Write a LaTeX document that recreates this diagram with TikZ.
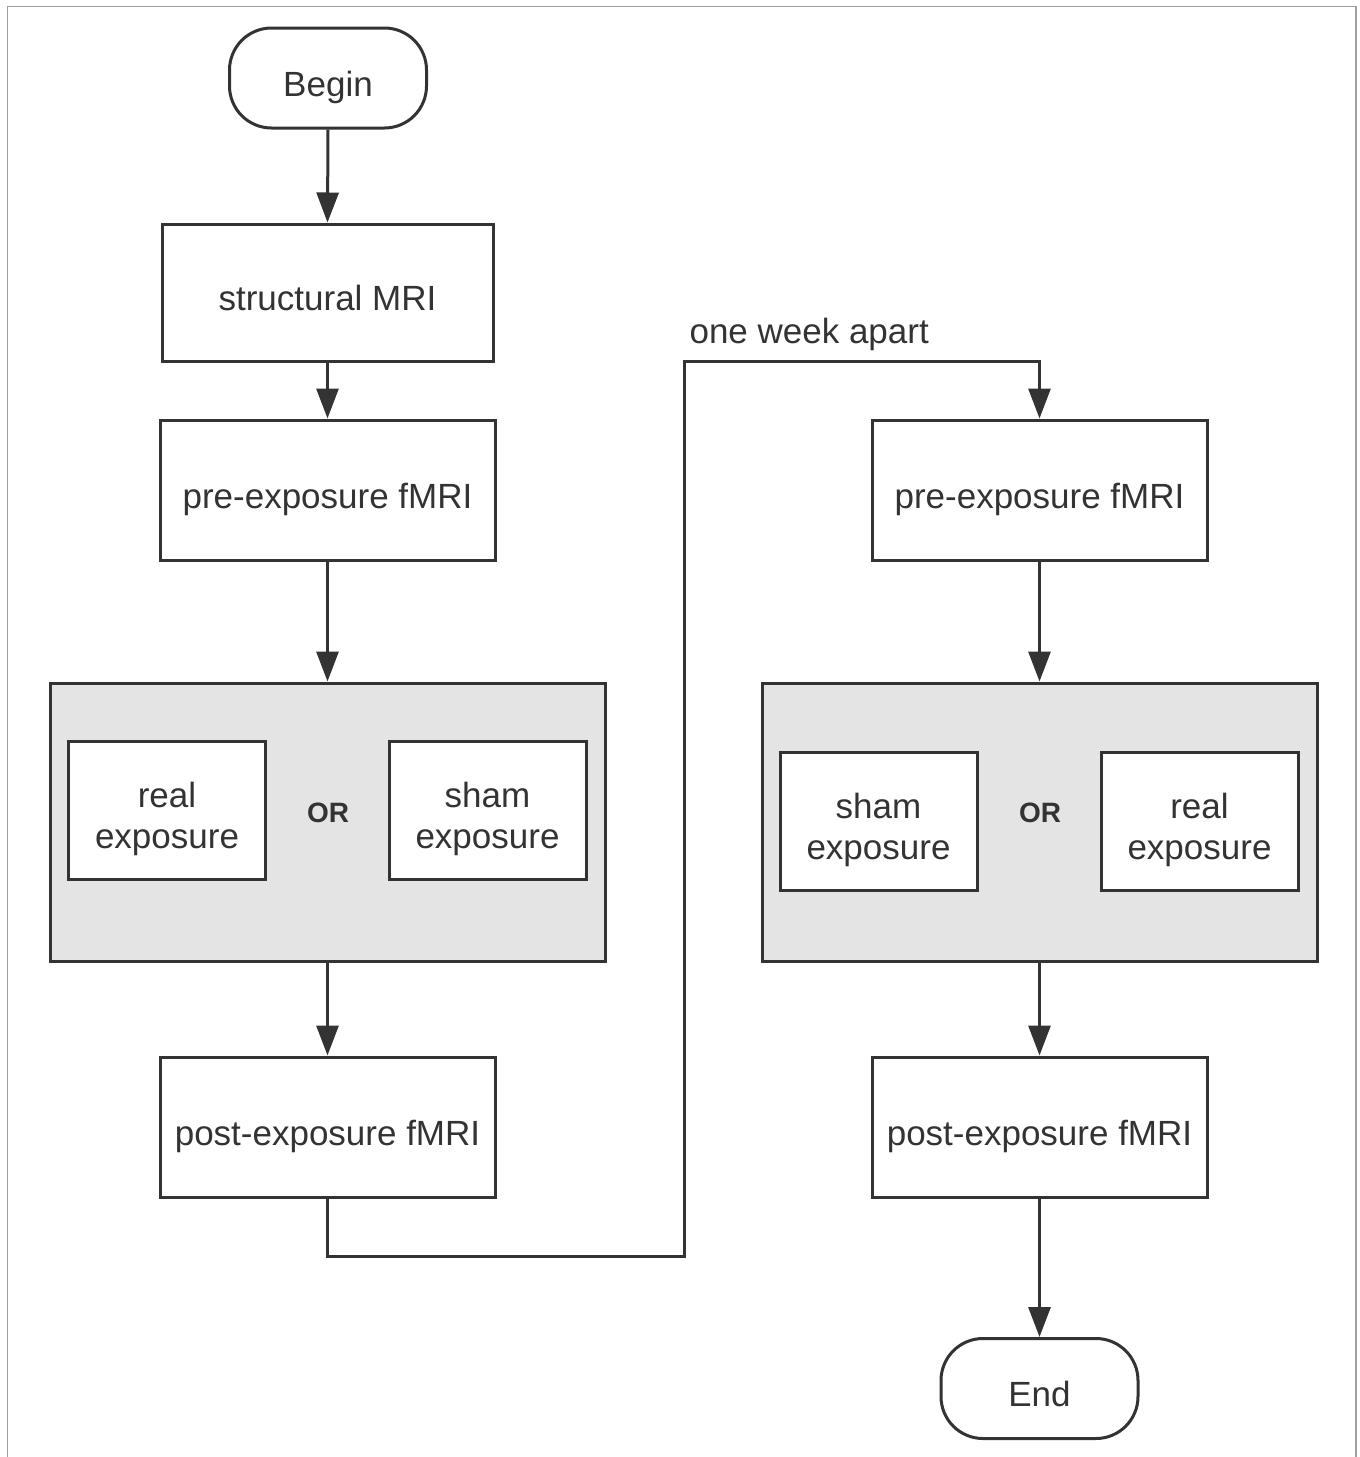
\documentclass[tikz,border=0pt]{standalone}
\usepackage{fontspec}
\setmainfont{Liberation Sans}
\usetikzlibrary{arrows.meta}
\definecolor{ink}{HTML}{333333}
\definecolor{panel}{HTML}{E4E4E4}
\newcommand\lowtxt[1]{\raisebox{-10pt}[\height][\depth]{\begin{tabular}{@{}c@{}}#1\end{tabular}}}
\begin{document}
\begin{tikzpicture}[x=1pt,y=-1pt,
  every node/.style={text=ink, font=\fontsize{35}{41}\selectfont},
  box/.style={draw=ink, line width=3pt, fill=white, inner sep=0pt},
  term/.style={box, rounded corners=42pt, minimum width=197pt, minimum height=100pt},
  stepbox/.style={box, minimum width=335pt, minimum height=140pt},
  sub/.style={box, minimum width=197pt, minimum height=138pt},
  grp/.style={draw=ink, line width=3pt, fill=panel, inner sep=0pt, minimum width=555pt, minimum height=278pt},
  ortext/.style={font=\fontsize{28}{32}\selectfont\bfseries},
  conn/.style={draw=ink, line width=3pt},
  arr/.style={conn, -{Triangle[length=30pt,width=22pt]}}
]
\useasboundingbox (0,0) rectangle (1360,1457);
\draw[gray!75, line width=1.5pt] (7.5,1457) -- (7.5,6.5) -- (1356,6.5) -- (1356,1457);

% left column
\node[term] (begin) at (328,78) {\lowtxt{Begin}};
\node[stepbox, minimum width=331pt, minimum height=137pt] (smri) at (327.5,292.5) {\lowtxt{structural MRI}};
\node[stepbox] (lpre) at (327.5,490) {\lowtxt{pre-exposure fMRI}};
\node[grp] (lgrp) at (327.5,822) {};
\node[sub] (lreal) at (167,810) {\lowtxt{real\\exposure}};
\node[ortext] (lor) at (328,813) {OR};
\node[sub] (lsham) at (487.5,810) {\lowtxt{sham\\exposure}};
\node[stepbox] (lpost) at (327.5,1127) {\lowtxt{post-exposure fMRI}};

% right column
\node[stepbox] (rpre) at (1039.5,490) {\lowtxt{pre-exposure fMRI}};
\node[grp] (rgrp) at (1039.5,822) {};
\node[sub] (rsham) at (878.5,821) {\lowtxt{sham\\exposure}};
\node[ortext] (ror) at (1040,813) {OR};
\node[sub] (rreal) at (1199.5,821) {\lowtxt{real\\exposure}};
\node[stepbox] (rpost) at (1039.5,1127) {\lowtxt{post-exposure fMRI}};
\node[term] (end) at (1039.5,1388.5) {\lowtxt{End}};

% connectors
\draw[arr] (begin.south) -- (smri.north);
\draw[arr] (smri.south) -- (lpre.north);
\draw[arr] (lpre.south) -- (lgrp.north);
\draw[arr] (lgrp.south) -- (lpost.north);
\coordinate (c1) at (684,1256);
\coordinate (c2) at (684,361);
\draw[arr] (lpost.south) |- (c1) -- (c2) -| (rpre.north);
\node[anchor=base west] (lbl) at (686,343) {one week apart};
\draw[arr] (rpre.south) -- (rgrp.north);
\draw[arr] (rgrp.south) -- (rpost.north);
\draw[arr] (rpost.south) -- (end.north);
\end{tikzpicture}
\end{document}
